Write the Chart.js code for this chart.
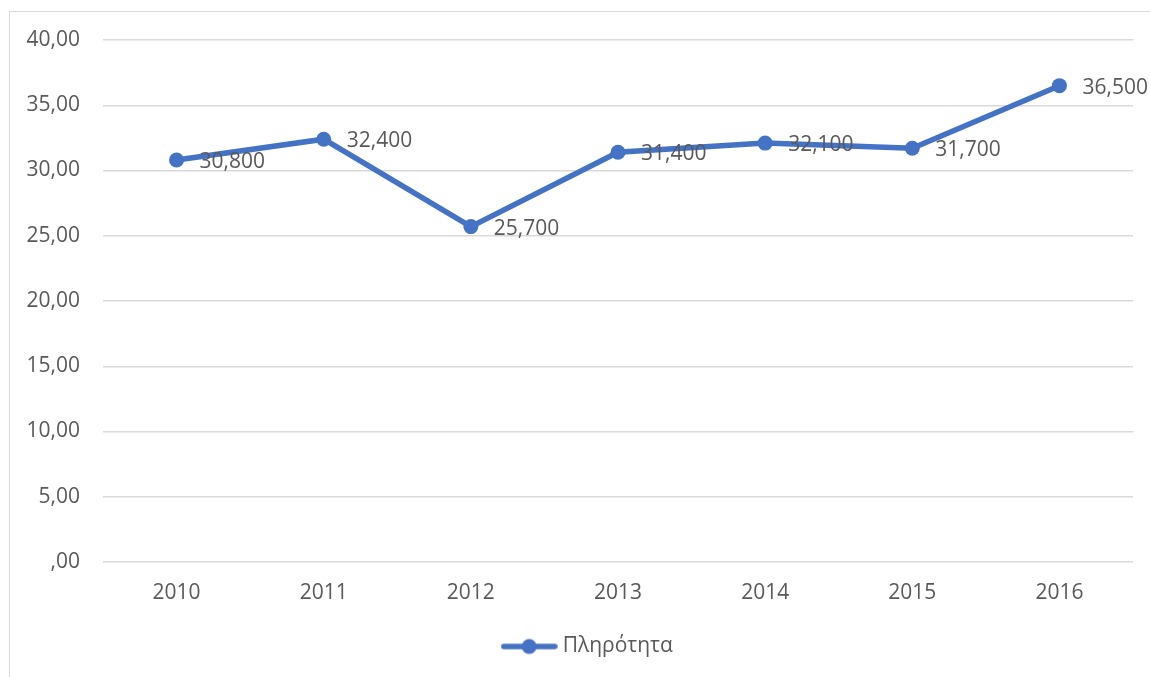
<!DOCTYPE html>
<html>
<head>
<meta charset="utf-8">
<script src="https://cdn.jsdelivr.net/npm/chart.js@4/dist/chart.umd.min.js"></script>
<style>
  html, body { margin: 0; padding: 0; background: #ffffff; overflow: hidden; }
  #frame { position: absolute; left: 9px; top: 11px; width: 1300px; height: 800px; border: 1px solid #d9d9d9; }
  #wrap { position: absolute; left: 0; top: 0; width: 1150px; height: 677px; }
</style>
</head>
<body>
<div id="frame"></div>
<div id="wrap"><canvas id="chart" width="1150" height="677"></canvas></div>
<script>
// Occupancy by year
const years = ['2010', '2011', '2012', '2013', '2014', '2015', '2016'];
const occupancy = [30.8, 32.4, 25.7, 31.4, 32.1, 31.7, 36.5];
const yTickLabels = [',00', '5,00', '10,00', '15,00', '20,00', '25,00', '30,00', '35,00', '40,00'];
const seriesName = 'Πληρότητα';

const BLUE = '#4472C4';
const TEXT = '#595959';
const GRID = '#d9d9d9';
const FONT = "'Open Sans', 'Noto Sans', sans-serif";
const FONT_SIZE = 21;

// Legend marker: a short line with a dot in the middle
const marker = document.createElement('canvas');
marker.width = 57; marker.height = 18;
(function () {
  const c = marker.getContext('2d');
  c.strokeStyle = BLUE; c.lineWidth = 5.5; c.lineCap = 'round';
  c.beginPath(); c.moveTo(3, 9); c.lineTo(54, 9); c.stroke();
  c.fillStyle = BLUE;
  c.beginPath(); c.arc(28.5, 9, 7.5, 0, Math.PI * 2); c.fill();
})();

// Value labels to the right of each point
const valueLabels = {
  id: 'valueLabels',
  afterDatasetsDraw(chart) {
    const ctx = chart.ctx;
    const meta = chart.getDatasetMeta(0);
    const data = chart.data.datasets[0].data;
    ctx.save();
    ctx.font = FONT_SIZE + 'px ' + FONT;
    ctx.fillStyle = TEXT;
    ctx.textAlign = 'left';
    ctx.textBaseline = 'middle';
    meta.data.forEach((pt, i) => {
      const txt = data[i].toFixed(3).replace('.', ',');
      ctx.fillText(txt, pt.x + 23, pt.y + 2);
    });
    ctx.restore();
  }
};

// Centre the legend under the plot rather than the whole canvas
const legendShift = {
  id: 'legendShift',
  afterLayout(chart) {
    if (chart.legend) {
      chart.legend.left += 23;
      chart.legend.right += 23;
    }
  }
};

new Chart(document.getElementById('chart'), {
  type: 'line',
  data: {
    labels: years,
    datasets: [{
      label: seriesName,
      data: occupancy,
      borderColor: BLUE,
      backgroundColor: BLUE,
      borderWidth: 5.5,
      pointRadius: 7.5,
      pointHoverRadius: 7.5,
      pointBackgroundColor: BLUE,
      pointBorderWidth: 0,
      tension: 0,
      fill: false
    }]
  },
  options: {
    responsive: false,
    animation: false,
    events: [],
    layout: { padding: { left: 0, right: 17, top: 40, bottom: 10 } },
    scales: {
      x: {
        offset: true,
        grid: { display: false, drawTicks: false },
        border: { display: false },
        ticks: { color: TEXT, font: { family: FONT, size: FONT_SIZE }, padding: 18, maxRotation: 0 },
        afterFit(scale) { scale.height = 64; }
      },
      y: {
        min: 0, max: 40,
        grid: { color: GRID, lineWidth: 1.5, drawTicks: false },
        border: { display: false },
        ticks: {
          stepSize: 5,
          color: TEXT,
          font: { family: FONT, size: FONT_SIZE },
          padding: 23,
          callback: (v, i) => yTickLabels[i]
        },
        afterFit(scale) { scale.width = 103; }
      }
    },
    plugins: {
      legend: {
        position: 'bottom',
        labels: {
          usePointStyle: true,
          pointStyle: marker,
          pointStyleWidth: 46,
          color: TEXT,
          font: { family: FONT, size: FONT_SIZE },
          padding: 10,
          generateLabels(chart) {
            return [{
              text: seriesName,
              fillStyle: BLUE,
              strokeStyle: BLUE,
              pointStyle: marker,
              lineWidth: 0,
              datasetIndex: 0,
              fontColor: TEXT
            }];
          }
        }
      },
      tooltip: { enabled: false }
    }
  },
  plugins: [valueLabels, legendShift]
});
</script>
</body>
</html>
